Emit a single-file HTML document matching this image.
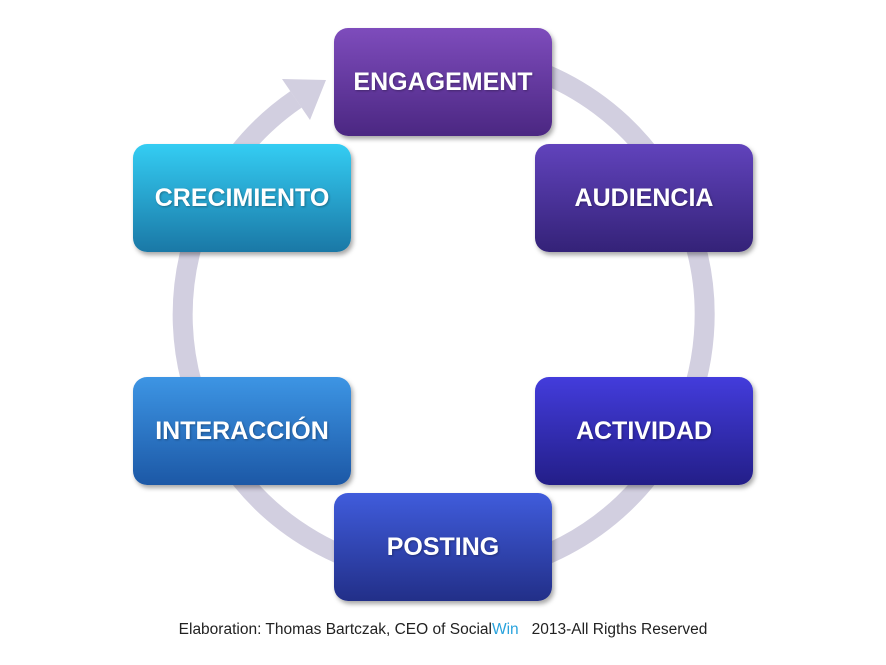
<!DOCTYPE html>
<html><head><meta charset="utf-8"><style>
body{margin:0;width:886px;height:665px;background:#fff;position:relative;overflow:hidden;font-family:"Liberation Sans",sans-serif}
.b{position:absolute;width:218px;height:108px;border-radius:14px;color:#fff;font-weight:bold;font-size:25px;display:flex;align-items:center;justify-content:center;box-shadow:2px 3px 5px rgba(0,0,0,.35);text-shadow:1px 1px 2px rgba(0,0,0,.3)}
.cap{position:absolute;left:0;width:886px;top:621px;text-align:center;font-size:15.5px;color:#222}
</style></head><body>
<svg width="886" height="665" style="position:absolute;left:0;top:0">
<path d="M 350 71 A 261 261 0 1 1 296 99.4" fill="none" stroke="#d2cfe0" stroke-width="20"/>
<polygon points="310,120 282,79 326,80" fill="#d2cfe0"/>
</svg>
<div class="b" style="left:334px;top:28px;background:linear-gradient(#7e4cbc,#4b2782)">ENGAGEMENT</div>
<div class="b" style="left:535px;top:144px;background:linear-gradient(#6143bc,#342278)">AUDIENCIA</div>
<div class="b" style="left:133px;top:144px;background:linear-gradient(#34cdf3,#1a78a6)">CRECIMIENTO</div>
<div class="b" style="left:133px;top:377px;background:linear-gradient(#3d95e4,#1c58a6)">INTERACCIÓN</div>
<div class="b" style="left:535px;top:377px;background:linear-gradient(#433cdc,#231e88)">ACTIVIDAD</div>
<div class="b" style="left:334px;top:493px;background:linear-gradient(#405cdc,#222f88)">POSTING</div>
<div class="cap">Elaboration: Thomas Bartczak, CEO of Social<span style="color:#29a3dd">Win</span>&nbsp;&nbsp; 2013-All Rigths Reserved</div>
</body></html>
